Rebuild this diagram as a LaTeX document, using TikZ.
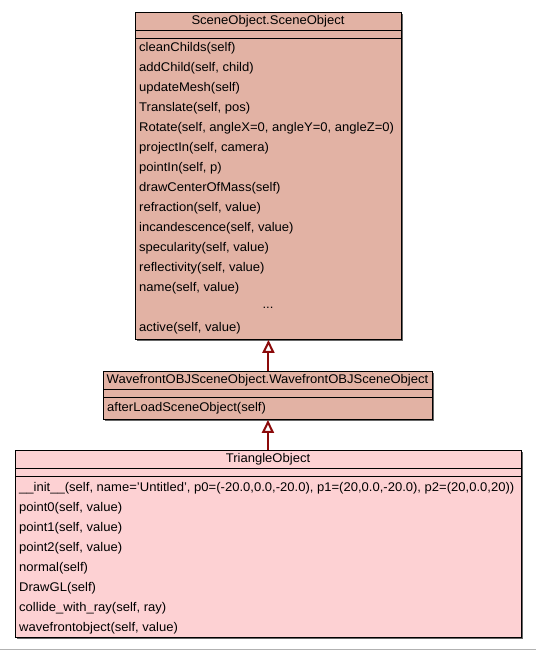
\documentclass[tikz,border=0pt]{standalone}
\usepackage{fontspec}
\setmainfont[FakeStretch=1.035]{Liberation Sans}
\usetikzlibrary{arrows.meta,shadows}
\definecolor{boxA}{HTML}{E2B2A4}
\definecolor{boxB}{HTML}{FDD1D3}
\definecolor{inh}{HTML}{8B0A0A}
\tikzset{
  cls/.style={draw=black, line width=0.9pt, inner sep=0pt, anchor=north west,
    drop shadow={shadow xshift=1.6pt, shadow yshift=-1.6pt, fill=black!60, opacity=1}},
  sepline/.style={draw=black, line width=0.9pt},
  meth/.style={anchor=west, inner sep=0pt, font=\fontsize{12.6}{14}\selectfont},
  ttl/.style={anchor=center, inner sep=0pt, font=\fontsize{12.6}{14}\selectfont},
  inherit/.style={draw=inh, line width=2pt, -{Triangle[open, length=13pt, width=12pt, fill=white]}}
}
\begin{document}
\begin{tikzpicture}[x=1pt,y=-1pt]
\useasboundingbox (0,0) rectangle (536,651);
\fill[white] (0,0) rectangle (536,651);
\draw[gray!60, line width=1.4pt] (0,649.5) -- (536,649.5);

% SceneObject
\node[cls, fill=boxA, minimum width=266pt, minimum height=327pt] (so) at (135,12) {};
\draw[sepline] ([yshift=-18pt]so.north west) -- ([yshift=-18pt]so.north east);
\draw[sepline] ([yshift=-26pt]so.north west) -- ([yshift=-26pt]so.north east);
\node[ttl] (sot) at (268,21) {SceneObject.SceneObject};
\node[meth] (so1) at (139,48) {cleanChilds(self)};
\node[meth] (so2) at (139,68) {addChild(self, child)};
\node[meth] (so3) at (139,88) {updateMesh(self)};
\node[meth] (so4) at (139,108) {Translate(self, pos)};
\node[meth] (so5) at (139,128) {Rotate(self, angleX=0, angleY=0, angleZ=0)};
\node[meth] (so6) at (139,148) {projectIn(self, camera)};
\node[meth] (so7) at (139,168) {pointIn(self, p)};
\node[meth] (so8) at (139,188) {drawCenterOfMass(self)};
\node[meth] (so9) at (139,208) {refraction(self, value)};
\node[meth] (so10) at (139,228) {incandescence(self, value)};
\node[meth] (so11) at (139,248) {specularity(self, value)};
\node[meth] (so12) at (139,268) {reflectivity(self, value)};
\node[meth] (so13) at (139,288) {name(self, value)};
\node[ttl] (so14) at (268,308) {...};
\node[meth] (so15) at (139,328) {active(self, value)};

% WavefrontOBJSceneObject
\node[cls, fill=boxA, minimum width=329pt, minimum height=48pt] (wo) at (103,371) {};
\draw[sepline] ([yshift=-18pt]wo.north west) -- ([yshift=-18pt]wo.north east);
\draw[sepline] ([yshift=-26pt]wo.north west) -- ([yshift=-26pt]wo.north east);
\node[ttl] (wot) at (267.5,380) {WavefrontOBJSceneObject.WavefrontOBJSceneObject};
\node[meth] (wo1) at (107,408) {afterLoadSceneObject(self)};

% TriangleObject
\node[cls, fill=boxB, minimum width=506pt, minimum height=187pt] (to) at (15,450) {};
\draw[sepline] ([yshift=-18pt]to.north west) -- ([yshift=-18pt]to.north east);
\draw[sepline] ([yshift=-26pt]to.north west) -- ([yshift=-26pt]to.north east);
\node[ttl] (tot) at (268,459) {TriangleObject};
\node[meth] (to1) at (19,488) {\_\_init\_\_(self, name='Untitled', p0=(-20.0,0.0,-20.0), p1=(20,0.0,-20.0), p2=(20,0.0,20))};
\node[meth] (to2) at (19,508) {point0(self, value)};
\node[meth] (to3) at (19,528) {point1(self, value)};
\node[meth] (to4) at (19,548) {point2(self, value)};
\node[meth] (to5) at (19,568) {normal(self)};
\node[meth] (to6) at (19,588) {DrawGL(self)};
\node[meth] (to7) at (19,608) {collide\_with\_ray(self, ray)};
\node[meth] (to8) at (19,628) {wavefrontobject(self, value)};

% inheritance
\draw[inherit] (wo.north -| so.south) -- (so.south);
\draw[inherit] (to.north -| wo.south) -- (wo.south);
\end{tikzpicture}
\end{document}
